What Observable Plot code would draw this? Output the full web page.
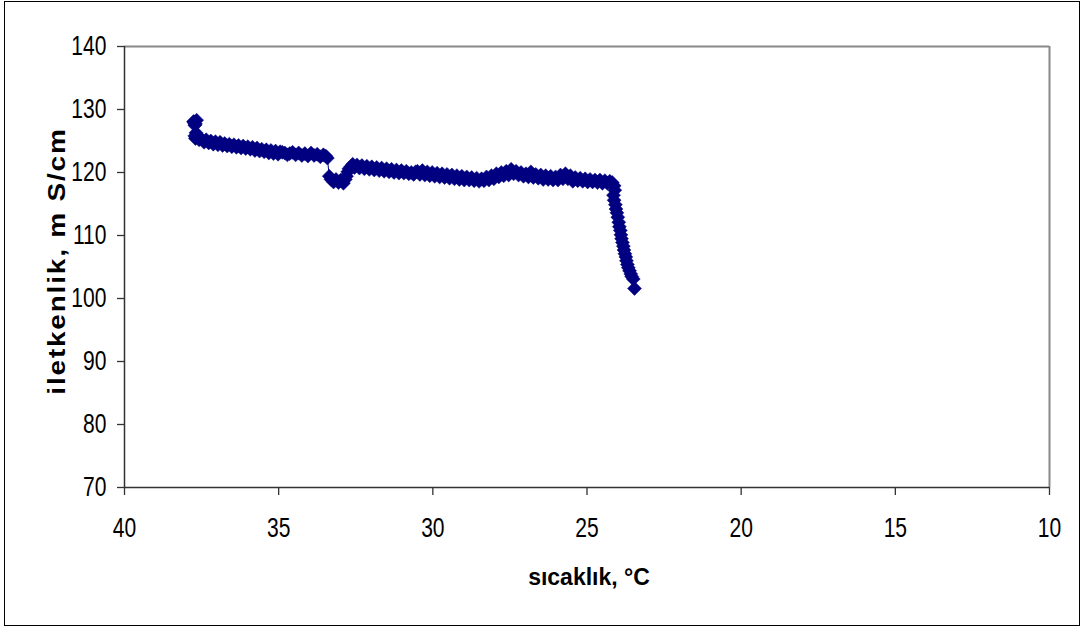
<!DOCTYPE html>
<html>
<head>
<meta charset="utf-8">
<script src="https://cdn.jsdelivr.net/npm/d3@7"></script>
<script src="https://cdn.jsdelivr.net/npm/@observablehq/plot@0.6"></script>
<style>
  html, body { margin: 0; padding: 0; background: #fff; }
  #wrap { position: relative; width: 1083px; height: 630px; overflow: hidden; }
  #border { position: absolute; left: 4px; top: 1px; width: 1076px; height: 625px; border: 1px solid #000; box-sizing: border-box; }
  #chart { position: absolute; left: 0; top: 0; }
</style>
</head>
<body>
<div id="wrap"><div id="border"></div><div id="chart"></div></div>
<script>
// sıcaklık (°C)
const temps = [
  37.76, 37.72, 37.66, 37.70, 37.74, 37.68, 37.72, 37.70, 37.64, 37.58,
  37.50, 37.42, 37.35, 37.27, 37.20, 37.12, 37.05, 36.97, 36.90, 36.82, 36.75, 36.67, 36.60, 36.52, 36.45, 36.37, 36.30, 36.22,
  36.15, 36.07, 36.00, 35.92, 35.85, 35.77, 35.70, 35.62, 35.55, 35.47, 35.40, 35.32, 35.25, 35.17, 35.10, 35.02, 34.95, 34.88,
  34.80, 34.72, 34.64,
  34.55, 34.45, 34.35, 34.25, 34.15, 34.05, 33.95, 33.85, 33.75, 33.65, 33.55, 33.47, 33.42,
  33.36, 33.30, 33.22, 33.14, 33.06, 32.98, 32.90, 32.84, 32.80, 32.76, 32.72, 32.66, 32.60, 32.54,
  32.46, 32.38, 32.30, 32.22, 32.14, 32.06, 31.98, 31.90, 31.82, 31.74, 31.66, 31.58, 31.50, 31.42, 31.34, 31.26, 31.18, 31.10, 31.02, 30.94, 30.86, 30.78,
  30.70, 30.62, 30.56,
  30.50, 30.42, 30.34, 30.26, 30.18, 30.10, 30.02, 29.94, 29.86, 29.78, 29.70, 29.62, 29.54, 29.46, 29.38, 29.30, 29.22, 29.14, 29.06, 28.98,
  28.90, 28.82, 28.74, 28.66, 28.58, 28.50, 28.42, 28.34, 28.26, 28.18, 28.10, 28.02, 27.94, 27.86, 27.78, 27.70, 27.62, 27.54, 27.46, 27.38,
  27.30, 27.22, 27.14, 27.06, 26.98, 26.90, 26.82, 26.74, 26.66, 26.58, 26.50, 26.42, 26.34, 26.26, 26.18, 26.10, 26.02, 25.94, 25.86, 25.78,
  25.70, 25.62, 25.54, 25.46, 25.38, 25.30, 25.22, 25.14, 25.06, 24.98, 24.90, 24.82, 24.74, 24.66, 24.58, 24.50, 24.42, 24.34, 24.26, 24.18, 24.12,
  24.10, 24.14, 24.12, 24.08, 24.06, 24.03, 24.00, 23.97, 23.95, 23.92, 23.90, 23.88, 23.85, 23.82, 23.80, 23.77, 23.74, 23.72, 23.69, 23.66, 23.62, 23.58, 23.55, 23.50, 23.46
];
// iletkenlik (mS/cm)
const conds = [
  128.1, 127.5, 128.3, 127.7, 127.9, 126.3, 125.8, 125.4, 125.9, 125.2,
  125.3, 124.8, 125.2, 124.7, 125.0, 124.5, 124.9, 124.4, 124.8, 124.3, 124.6, 124.2, 124.5, 124.1, 124.4, 124.0, 124.3, 123.9,
  124.2, 123.8, 124.1, 123.7, 124.0, 123.5, 123.9, 123.4, 123.7, 123.3, 123.6, 123.1, 123.5, 123.0, 123.4, 122.9, 123.3, 123.2,
  123.1, 122.8, 123.0,
  123.2, 122.8, 123.1, 122.7, 123.0, 122.6, 123.1, 122.7, 122.9, 122.5, 122.8, 122.6, 122.3,
  119.4, 118.9, 118.5, 118.9, 118.4, 118.8, 118.3, 118.9, 119.4, 120.1, 120.6, 120.9, 121.3, 120.8,
  121.2, 120.7, 121.1, 120.6, 121.0, 120.5, 120.9, 120.4, 120.8, 120.3, 120.7, 120.2, 120.6, 120.1, 120.5, 120.0, 120.4, 119.9, 120.3, 119.9, 120.2, 119.8,
  120.0, 119.7, 120.1,
  120.2, 119.7, 120.3, 119.6, 120.1, 119.5, 120.0, 119.4, 119.9, 119.3, 119.8, 119.2, 119.7, 119.1, 119.6, 119.0, 119.5, 118.9, 119.4, 118.8,
  119.3, 118.8, 119.2, 118.7, 119.1, 118.6, 119.0, 118.7, 119.3, 118.8, 119.5, 119.0, 119.8, 119.3, 120.0, 119.5, 120.2, 119.6, 120.5, 119.8,
  120.2, 119.6, 120.0, 119.4, 119.8, 119.3, 120.1, 119.2, 119.7, 119.1, 119.6, 118.9, 119.5, 118.9, 119.4, 118.8, 119.3, 118.8, 119.6, 119.0,
  119.8, 119.0, 119.5, 118.6, 119.2, 118.7, 119.1, 118.6, 119.0, 118.5, 118.9, 118.5, 118.8, 118.4, 118.8, 118.3, 118.7, 118.3, 118.6, 118.4, 117.9,
  117.2, 116.4, 115.6, 114.9, 114.2, 113.6, 112.9, 112.1, 111.4, 110.8, 110.1, 109.5, 108.9, 108.3, 107.7, 107.1, 106.6, 106.0, 105.4, 104.9, 104.4, 103.9, 103.5, 103.1, 101.6
];
const xTicks = [40, 35, 30, 25, 20, 15, 10];
const yTicks = [70, 80, 90, 100, 110, 120, 130, 140];
const xTitle = "sıcaklık, °C";
const yTitle = "iletkenlik, m S/cm";

const data = temps.map((t, i) => ({t, c: conds[i]}));
const navy = "#000080";

const chart = Plot.plot({
  width: 1083,
  height: 630,
  marginLeft: 124,
  marginTop: 46,
  marginRight: 34,
  marginBottom: 143,
  style: {fontFamily: "'Liberation Sans', Arial, sans-serif", background: "transparent", color: "#000"},
  x: {domain: [40, 10], label: null},
  y: {domain: [70, 140], label: null},
  marks: [
    Plot.ruleY([140], {stroke: "#888", strokeWidth: 2}),
    Plot.ruleX([10], {stroke: "#888", strokeWidth: 2}),
    Plot.ruleX([40], {stroke: "#333", strokeWidth: 1.5}),
    Plot.ruleY([70], {stroke: "#333", strokeWidth: 1.5}),
    Plot.axisX({ticks: xTicks, tickSize: 8, tickPadding: 22, fontSize: 27, label: null, stroke: "#333", strokeWidth: 1.3}),
    Plot.axisY({ticks: yTicks, tickSize: 7, tickPadding: 11, fontSize: 27, label: null, stroke: "#333", strokeWidth: 1.3}),
    Plot.line(data, {x: "t", y: "c", stroke: navy, strokeWidth: 1}),
    Plot.dot(data, {x: "t", y: "c", symbol: "diamond2", r: 6.3, fill: navy, stroke: navy, strokeWidth: 0.5})
  ]
});

// narrow the tick labels
chart.querySelectorAll("g[aria-label='x-axis tick label'] text, g[aria-label='y-axis tick label'] text").forEach(t => {
  const tr = t.getAttribute("transform") || "";
  t.setAttribute("transform", tr + " scale(0.78,1)");
});

// axis titles
const ns = "http://www.w3.org/2000/svg";
const xt = document.createElementNS(ns, "text");
xt.textContent = xTitle;
xt.setAttribute("transform", "translate(589,585)");
xt.setAttribute("text-anchor", "middle");
xt.setAttribute("font-size", "23");
xt.setAttribute("font-weight", "bold");
xt.setAttribute("fill", "#000");
chart.appendChild(xt);

const yt = document.createElementNS(ns, "text");
yt.textContent = yTitle;
yt.setAttribute("transform", "translate(65,261) rotate(-90) scale(1,0.88)");
yt.setAttribute("text-anchor", "middle");
yt.setAttribute("font-size", "28");
yt.setAttribute("font-weight", "bold");
yt.setAttribute("letter-spacing", "1.8");
yt.setAttribute("fill", "#000");
chart.appendChild(yt);

document.getElementById("chart").appendChild(chart);
</script>
</body>
</html>
